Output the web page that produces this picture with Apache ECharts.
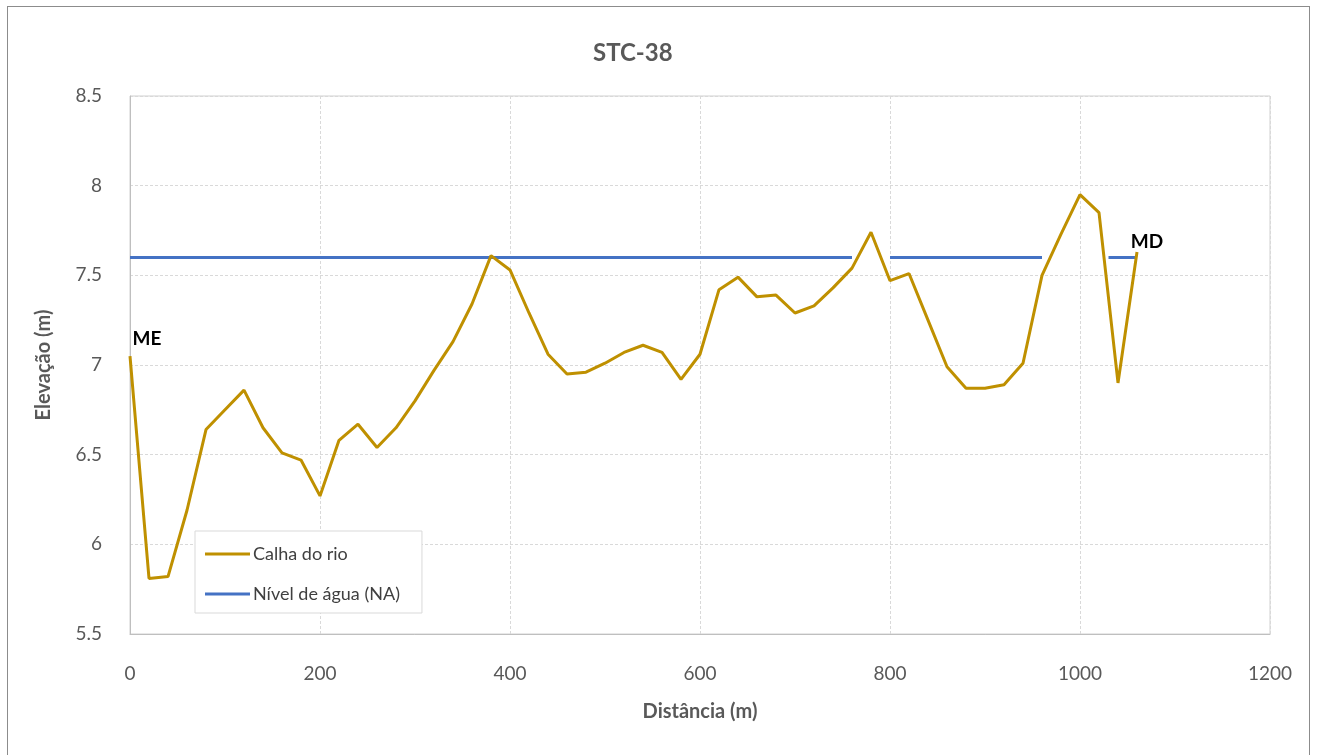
<!DOCTYPE html>
<html>
<head>
    <meta charset="utf-8">
    <script src="https://cdn.jsdelivr.net/npm/echarts@6/dist/echarts.min.js"></script>
    <style>
        body { margin: 0; background: #fff; }
        #frame { position: absolute; left: 7px; top: 6px; width: 1303px; height: 760px; border: 1px solid #8c8c8c; box-sizing: border-box; }
        #main { position: absolute; left: 0; top: 0; width: 1319px; height: 755px; }
    </style>
</head>
<body>
    <div id="frame"></div>
    <div id="main"></div>
    <script type="text/javascript">

    // distancias (m) e elevacoes (m) da calha do rio
    var distancias = [0, 20, 40, 60, 80, 100, 120, 140, 160, 180, 200, 220, 240, 260, 280, 300,
        320, 340, 360, 380, 400, 420, 440, 460, 480, 500, 520, 540, 560, 580, 600, 620, 640,
        660, 680, 700, 720, 740, 760, 780, 800, 820, 840, 860, 880, 900, 920, 940, 960, 980,
        1000, 1020, 1040, 1060];
    var calha = [7.05, 5.81, 5.82, 6.19, 6.64, 6.75, 6.86, 6.65, 6.51, 6.47, 6.27, 6.58, 6.67,
        6.54, 6.65, 6.80, 6.97, 7.13, 7.34, 7.61, 7.53, 7.29, 7.06, 6.95, 6.96, 7.01, 7.07, 7.11,
        7.07, 6.92, 7.06, 7.42, 7.49, 7.38, 7.39, 7.29, 7.33, 7.43, 7.54, 7.74, 7.47, 7.51, 7.25,
        6.99, 6.87, 6.87, 6.89, 7.01, 7.50, 7.73, 7.95, 7.85, 6.90, 7.63];

    // nivel de agua: trechos interrompidos onde a calha fica acima
    var naDist = [0, 760, 780, 800, 960, 1000, 1030, 1060];
    var naElev = [7.6, 7.6, null, 7.6, 7.6, null, 7.6, 7.6];

    var xTicks = [0, 1200, 200];
    var yTicks = [5.5, 8.5, 0.5];

    var fonte = 'Lato, "Open Sans", sans-serif';
    var cinza = '#595959';

    var calhaData = distancias.map(function (d, i) {
        var item = { value: [d, calha[i]] };
        if (i === 0) {
            item.label = { show: true, formatter: 'ME', position: 'top', offset: [17, -3] };
        }
        if (i === distancias.length - 1) {
            item.label = { show: true, formatter: 'MD', position: 'top', offset: [10, 4] };
        }
        return item;
    });
    var naData = naDist.map(function (d, i) {
        return [d, naElev[i] === null ? '-' : naElev[i]];
    });

    var myChart = echarts.init(document.getElementById('main'));

    myChart.setOption({
        animation: false,
        title: {
            text: 'STC-38',
            left: 588,
            top: 36,
            textStyle: { fontFamily: fonte, fontSize: 24, fontWeight: 'bold', color: cinza }
        },
        legend: {
            orient: 'vertical',
            left: 195,
            top: 531,
            padding: [14, 22, 10, 10],
            itemGap: 22,
            itemWidth: 45,
            itemHeight: 3,
            icon: 'rect',
            backgroundColor: '#fff',
            borderColor: '#d9d9d9',
            borderWidth: 1,
            textStyle: { fontFamily: fonte, fontSize: 18, color: '#404040', padding: [0, 0, 0, -2] },
            data: ['Calha do rio', 'Nível de água (NA)']
        },
        grid: {
            left: 130,
            right: 49,
            top: 96,
            bottom: 121,
            show: true,
            borderColor: '#d0d0d0',
            borderWidth: 1
        },
        xAxis: {
            type: 'value',
            min: xTicks[0],
            max: xTicks[1],
            interval: xTicks[2],
            name: 'Distância (m)',
            nameLocation: 'middle',
            nameGap: 68,
            nameTextStyle: { fontFamily: fonte, fontSize: 20, fontWeight: 'bold', color: cinza },
            axisLine: { lineStyle: { color: '#bfbfbf' } },
            axisTick: { show: false },
            axisLabel: { fontFamily: fonte, fontSize: 19, color: cinza, margin: 30, formatter: function (v) { return String(v); } },
            splitLine: { lineStyle: { color: '#d9d9d9', type: [3, 2] } }
        },
        yAxis: {
            type: 'value',
            min: yTicks[0],
            max: yTicks[1],
            interval: yTicks[2],
            name: 'Elevação (m)',
            nameLocation: 'middle',
            nameGap: 76,
            nameTextStyle: { fontFamily: fonte, fontSize: 20, fontWeight: 'bold', color: cinza },
            axisLine: { show: true, lineStyle: { color: '#bfbfbf' } },
            axisTick: { show: false },
            axisLabel: { fontFamily: fonte, fontSize: 19, color: cinza, margin: 28 },
            splitLine: { lineStyle: { color: '#d9d9d9', type: [3, 2] } }
        },
        series: [
            {
                name: 'Calha do rio',
                type: 'line',
                data: calhaData,
                showSymbol: true,
                symbol: 'circle',
                symbolSize: 0,
                color: '#bf9000',
                lineStyle: { width: 3, color: '#bf9000' },
                label: {
                    fontFamily: fonte,
                    fontSize: 19,
                    fontWeight: 'bold',
                    color: '#000'
                },
                z: 3
            },
            {
                name: 'Nível de água (NA)',
                type: 'line',
                data: naData,
                symbol: 'none',
                connectNulls: false,
                color: '#4472c4',
                lineStyle: { width: 3, color: '#4472c4' },
                z: 2
            }
        ]
    });
    </script>
</body>
</html>
